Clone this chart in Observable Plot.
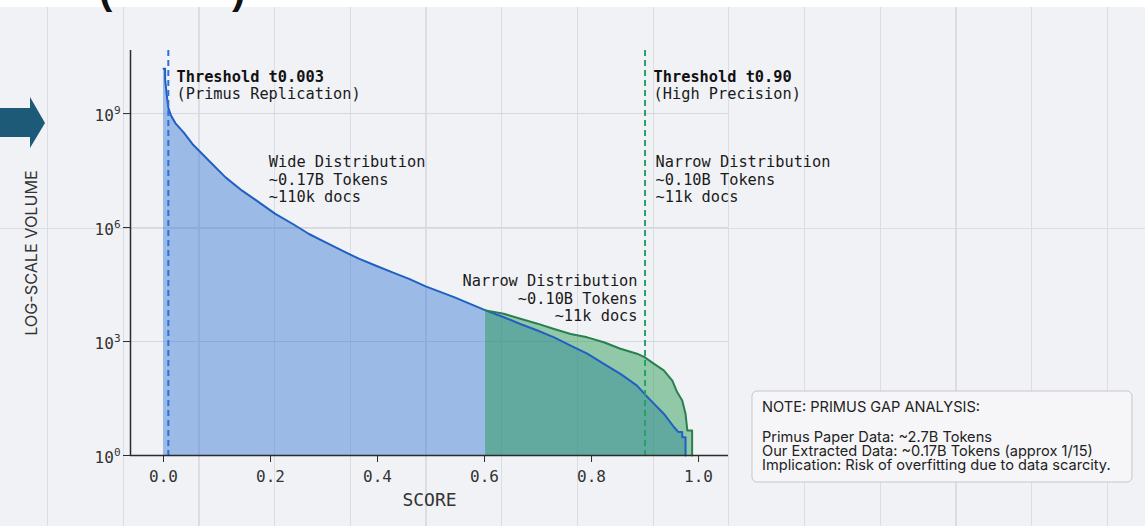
<!DOCTYPE html>
<html>
<head>
<meta charset="utf-8">
<script src="https://cdn.jsdelivr.net/npm/d3@7"></script>
<script src="https://cdn.jsdelivr.net/npm/@observablehq/plot@0.6"></script>
<style>
  html, body { margin: 0; padding: 0; background: #ffffff; }
  #wrap { position: relative; width: 1145px; height: 526px; overflow: hidden; background: #ffffff; }
  #bg { position: absolute; left: 0; top: 7px; width: 1145px; height: 519px; background-color: #f1f2f6;
    background-image: repeating-linear-gradient(to right, transparent 0px, transparent 47px, #dcdde2 47px, #dcdde2 48.2px, transparent 48.2px, transparent 75.7px); }
  #hline { position: absolute; left: 0; top: 227.5px; width: 1145px; height: 1px; background: #dcdde2; }
  #chart, #overlay { position: absolute; left: 0; top: 0; }
  #overlay { pointer-events: none; }
</style>
</head>
<body>
<div id="wrap">
  <div id="bg"></div>
  <div id="hline"></div>
  <div id="chart"></div>
  <svg id="overlay" width="1145" height="526" xmlns="http://www.w3.org/2000/svg">
    <text x="99" y="3.5" font-family="Liberation Sans, Arial, sans-serif" font-weight="bold" font-size="40" fill="#111">(</text>
    <text x="232" y="3.5" font-family="Liberation Sans, Arial, sans-serif" font-weight="bold" font-size="40" fill="#111">)</text>
    <path d="M0,108 L30,108 L30,97 L45,123 L30,148 L30,137 L0,137 Z" fill="#1d5a78"/>
    <rect x="752" y="391" width="380" height="91" rx="5" ry="5" fill="#f6f6f8" stroke="#c6c7cb" stroke-width="1"/>
    <g font-family="Inter, Liberation Sans, sans-serif" font-size="14.6" fill="#222">
      <text x="762" y="412">NOTE: PRIMUS GAP ANALYSIS:</text>
      <text x="762" y="441.8">Primus Paper Data: ~2.7B Tokens</text>
      <text x="762" y="455.8">Our Extracted Data: ~0.17B Tokens (approx 1/15)</text>
      <text x="762" y="469.8">Implication: Risk of overfitting due to data scarcity.</text>
    </g>
  </svg>
</div>
<script>
// ---- data (score, log10 of volume) ----
const blueScore = [0.000, 0.003, 0.003, 0.006, 0.009, 0.014, 0.022, 0.038, 0.054, 0.085, 0.116, 0.147, 0.178, 0.209, 0.241, 0.272, 0.303, 0.334, 0.365, 0.396, 0.428, 0.459, 0.490, 0.543, 0.602, 0.636, 0.667, 0.699, 0.730, 0.761, 0.792, 0.823, 0.854, 0.885, 0.899, 0.917, 0.935, 0.954, 0.962, 0.9695, 0.9695, 0.9757, 0.9757];
const blueExp   = [10.18, 10.18, 9.90, 9.50, 9.15, 8.95, 8.75, 8.50, 8.20, 7.76, 7.32, 6.97, 6.67, 6.36, 6.10, 5.83, 5.61, 5.39, 5.18, 5.00, 4.82, 4.65, 4.45, 4.17, 3.82, 3.64, 3.46, 3.29, 3.11, 2.89, 2.68, 2.41, 2.15, 1.84, 1.62, 1.36, 1.10, 0.75, 0.62, 0.62, 0.48, 0.48, 0.00];

const greenScore = [0.602, 0.636, 0.667, 0.699, 0.730, 0.761, 0.792, 0.823, 0.854, 0.885, 0.899, 0.917, 0.935, 0.951, 0.960, 0.9695, 0.9757, 0.979, 0.988, 0.988];
const greenExp   = [3.82, 3.73, 3.60, 3.47, 3.33, 3.20, 3.11, 2.98, 2.81, 2.68, 2.59, 2.41, 2.24, 1.97, 1.67, 1.45, 1.10, 0.66, 0.66, 0.00];

const thresholds = [0.009, 0.90];
const xTicks = [0.0, 0.2, 0.4, 0.6, 0.8, 1.0];
const yTicks = [1, 1e3, 1e6, 1e9];
const yTickExponents = ["0", "3", "6", "9"];

const blue = blueScore.map((s, i) => ({score: s, vol: Math.pow(10, blueExp[i])}));
const green = greenScore.map((s, i) => ({score: s, vol: Math.pow(10, greenExp[i])}));

const mono = "DejaVu Sans Mono, monospace";
const fs = 15.3;

const chart = Plot.plot({
  width: 1145,
  height: 526,
  marginLeft: 130,
  marginRight: 417,
  marginTop: 50,
  marginBottom: 71,
  style: {background: "transparent", fontFamily: mono, fontSize: "16px", color: "#333", overflow: "visible"},
  x: {domain: [-0.0617, 1.056], label: null},
  y: {type: "log", domain: [1, Math.pow(10, 10.66)], label: null},
  marks: [
    Plot.ruleY([1e3, 1e6, 1e9], {stroke: "#d6d7dc", strokeWidth: 1}),
    Plot.areaY(blue, {x: "score", y1: 1, y2: "vol", fill: "#3476d2", fillOpacity: 0.45}),
    Plot.areaY(green, {x: "score", y1: 1, y2: "vol", fill: "#1c9749", fillOpacity: 0.45}),
    Plot.line(blue, {x: "score", y: "vol", stroke: "#2060c2", strokeWidth: 2}),
    Plot.line(green, {x: "score", y: "vol", stroke: "#2a7f50", strokeWidth: 2}),
    Plot.ruleX([thresholds[0]], {stroke: "#2f6fd6", strokeWidth: 2, strokeDasharray: "6,4"}),
    Plot.ruleX([thresholds[1]], {stroke: "#27a06a", strokeWidth: 2, strokeDasharray: "6,4"}),
    Plot.ruleX([-0.0617], {stroke: "#2b2b2b", strokeWidth: 1.5}),
    Plot.ruleY([1], {stroke: "#2b2b2b", strokeWidth: 1.5}),
    Plot.axisX(xTicks, {tickSize: 7, tickPadding: 8, tickFormat: d3.format(".1f"), label: null, stroke: "#2b2b2b", fill: "#333"}),
    Plot.axisY(yTicks, {tickSize: 7, tickFormat: () => "", label: null, stroke: "#2b2b2b"}),
    Plot.axisY(yTicks, {tickSize: 0, tickPadding: 10, dy: 2.5, tickFormat: d => "10^" + yTickExponents[yTicks.indexOf(d)], label: null, fill: "#333", ariaLabel: "y-tick-labels"}),
    // annotations
    Plot.text([{x: 0.0243, y: Math.pow(10, 10.13), t: "Threshold t0.003"}, {x: 0.9159, y: Math.pow(10, 10.13), t: "Threshold t0.90"}],
      {x: "x", y: "y", text: "t", textAnchor: "start", lineAnchor: "top", fontFamily: mono, fontSize: fs, fontWeight: "bold", fill: "#111"}),
    Plot.text([{x: 0.0243, y: Math.pow(10, 9.675), t: "(Primus Replication)"}, {x: 0.9159, y: Math.pow(10, 9.675), t: "(High Precision)"}],
      {x: "x", y: "y", text: "t", textAnchor: "start", lineAnchor: "top", fontFamily: mono, fontSize: fs, fill: "#1a1a1a"}),
    Plot.text([{x: 0.1968, y: Math.pow(10, 7.92), t: "Wide Distribution\n~0.17B Tokens\n~110k docs"}, {x: 0.9196, y: Math.pow(10, 7.92), t: "Narrow Distribution\n~0.10B Tokens\n~11k docs"}],
      {x: "x", y: "y", text: "t", textAnchor: "start", lineAnchor: "top", lineHeight: 1.144, fontFamily: mono, fontSize: fs, fill: "#1a1a1a"}),
    Plot.text([{x: 0.886, y: Math.pow(10, 4.78), t: "Narrow Distribution\n~0.10B Tokens\n~11k docs"}],
      {x: "x", y: "y", text: "t", textAnchor: "end", lineAnchor: "top", lineHeight: 1.144, fontFamily: mono, fontSize: fs, fill: "#1a1a1a"}),
    Plot.text(["SCORE"], {frameAnchor: "bottom", dy: 38.2, textAnchor: "middle", lineAnchor: "top", fontFamily: mono, fontSize: 18, fill: "#333"}),
    Plot.text(["LOG-SCALE VOLUME"], {frameAnchor: "left", dx: -98.5, rotate: -90, textAnchor: "middle", lineAnchor: "middle", fontFamily: "Inter, Liberation Sans, sans-serif", fontSize: 16.2, fill: "#333"})
  ]
});

// render the "10^n" tick labels with a real superscript
d3.select(chart).selectAll("text").each(function() {
  const t = this.textContent;
  const m = /^10\^(\d+)$/.exec(t);
  if (!m) return;
  const sel = d3.select(this);
  sel.text(null);
  sel.append("tspan").text("10");
  sel.append("tspan").attr("dy", -7).attr("font-size", 11).text(m[1]);
});

document.getElementById("chart").appendChild(chart);
</script>
</body>
</html>
